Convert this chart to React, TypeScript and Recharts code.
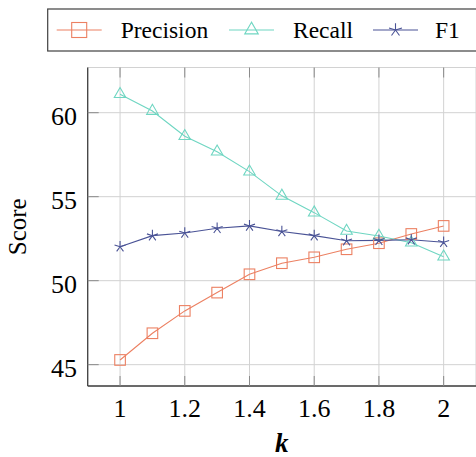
import {
  LineChart,
  Line,
  XAxis,
  YAxis,
  CartesianGrid,
  Legend,
} from "recharts";

const K = [1, 1.1, 1.2, 1.3, 1.4, 1.5, 1.6, 1.7, 1.8, 1.9, 2];
const PRECISION = [45.28, 46.87, 48.2, 49.29, 50.38, 51.04, 51.39, 51.87, 52.23, 52.78, 53.26];
const RECALL = [61.1, 60.1, 58.6, 57.68, 56.49, 55.05, 54.05, 52.96, 52.66, 52.26, 51.43];
const F1 = [52.02, 52.68, 52.84, 53.12, 53.26, 52.93, 52.68, 52.38, 52.4, 52.44, 52.29];

const X_TICKS = [1, 1.2, 1.4, 1.6, 1.8, 2];
const Y_TICKS = [45, 50, 55, 60];

const data = K.map((k, i) => ({
  k,
  precision: PRECISION[i],
  recall: RECALL[i],
  f1: F1[i],
}));

const W = 476;
const H = 457;
const TOP = 67.5;
const BOTTOM = 386;
const LEFT = 87.7;
const FONT = "'Liberation Serif', 'Times New Roman', serif";
const TICK_COLOR = "#8a8a8a";
const FRAME = "#404040";

const COLORS = {
  precision: "#ec8062",
  recall: "#6fd6c2",
  f1: "#4a5396",
};

const textStyle = (size: number, extra: any = {}) => ({
  fontFamily: FONT,
  fontSize: size,
  fill: "#000",
  ...extra,
});

type MarkerKind = "square" | "triangle" | "star";

function Marker({ kind, cx, cy, color, r }: { kind: MarkerKind; cx: number; cy: number; color: string; r: number }) {
  if (kind === "square") {
    return <rect x={cx - r} y={cy - r} width={2 * r} height={2 * r} fill="none" stroke={color} strokeWidth={1.1} />;
  }
  if (kind === "triangle") {
    const h = r * 1.15;
    const pts = `${cx},${cy - h} ${cx - h * 0.866},${cy + h * 0.5} ${cx + h * 0.866},${cy + h * 0.5}`;
    return <polygon points={pts} fill="none" stroke={color} strokeWidth={1.1} />;
  }
  const arms = [90, 162, 234, 306, 18].map((a) => {
    const rad = (a * Math.PI) / 180;
    return `M${cx},${cy}L${cx + r * Math.cos(rad)},${cy - r * Math.sin(rad)}`;
  });
  return <path d={arms.join("")} fill="none" stroke={color} strokeWidth={1.1} />;
}

const dotFor = (kind: MarkerKind, color: string) => (props: any) => {
  const { cx, cy, index } = props;
  if (cx == null || cy == null) return <g key={`d-${kind}-${index}`} />;
  return (
    <g key={`d-${kind}-${index}`}>
      <Marker kind={kind} cx={cx} cy={cy} color={color} r={kind === "square" ? 5.3 : 5.8} />
    </g>
  );
};

const SERIES: { key: "precision" | "recall" | "f1"; name: string; kind: MarkerKind }[] = [
  { key: "precision", name: "Precision", kind: "square" },
  { key: "recall", name: "Recall", kind: "triangle" },
  { key: "f1", name: "F1", kind: "star" },
];

function XTick(props: any) {
  const { x, payload } = props;
  return (
    <g>
      <line x1={x} x2={x} y1={BOTTOM} y2={BOTTOM - 10} stroke={TICK_COLOR} />
      <line x1={x} x2={x} y1={TOP} y2={TOP + 10} stroke={TICK_COLOR} />
      <text x={x} y={417} textAnchor="middle" style={textStyle(26)}>
        {String(payload.value)}
      </text>
    </g>
  );
}

function YTick(props: any) {
  const { y, payload } = props;
  return (
    <g>
      <line x1={LEFT} x2={LEFT + 11} y1={y} y2={y} stroke={TICK_COLOR} />
      <text x={77} y={y + 12.3} textAnchor="end" style={textStyle(26)}>
        {String(payload.value)}
      </text>
    </g>
  );
}

function LegendBox() {
  const items = [
    { ...SERIES[0], lineX: 56.7, textX: 120.7 },
    { ...SERIES[1], lineX: 229, textX: 293 },
    { ...SERIES[2], lineX: 373, textX: 435 },
  ];
  return (
    <svg width={W} height={52} style={{ display: "block" }}>
      <rect x={47.7} y={9} width={460} height={42} fill="#fff" stroke={FRAME} strokeWidth={1.2} />
      {items.map((it) => (
        <g key={it.key}>
          <line x1={it.lineX} x2={it.lineX + 45} y1={30} y2={30} stroke={COLORS[it.key]} strokeWidth={1.1} />
          <Marker kind={it.kind} cx={it.lineX + 22.5} cy={30} color={COLORS[it.key]} r={it.kind === "square" ? 7.5 : 6.8} />
          <text x={it.textX} y={38} style={textStyle(23.5)}>
            {it.name}
          </text>
        </g>
      ))}
    </svg>
  );
}

export default function App() {
  return (
    <div style={{ position: "fixed", left: 0, top: 0, width: W, height: H, overflow: "hidden", background: "#fff" }}>
      <LineChart width={W} height={H} data={data} margin={{ top: TOP, right: 0, bottom: 0, left: 0 }}>
        <CartesianGrid stroke="#d2d2d2" strokeWidth={1} vertical horizontal />
        <XAxis
          dataKey="k"
          type="number"
          domain={[0.9, 2.1]}
          ticks={X_TICKS}
          allowDataOverflow
          height={H - BOTTOM}
          tickLine={false}
          axisLine={{ stroke: FRAME, strokeWidth: 1.3 }}
          tick={<XTick />}
          interval={0}
          label={{
            content: (p: any) => {
              const vb = p.viewBox || {};
              return (
                <text
                  x={vb.x + vb.width / 2}
                  y={452}
                  textAnchor="middle"
                  style={textStyle(27, { fontWeight: "bold", fontStyle: "italic" })}
                >
                  k
                </text>
              );
            },
          }}
        />
        <XAxis
          xAxisId="top"
          orientation="top"
          dataKey="k"
          type="number"
          domain={[0.9, 2.1]}
          height={0}
          tick={false}
          tickLine={false}
          axisLine={{ stroke: FRAME, strokeWidth: 1.3 }}
        />
        <YAxis
          type="number"
          domain={[43.73, 62.69]}
          ticks={Y_TICKS}
          allowDataOverflow
          width={LEFT}
          tickLine={false}
          axisLine={{ stroke: FRAME, strokeWidth: 1.3 }}
          tick={<YTick />}
          interval={0}
          label={{
            content: (p: any) => {
              const vb = p.viewBox || {};
              const cy = vb.y + vb.height / 2;
              return (
                <text
                  transform={`translate(26, ${cy}) rotate(-90)`}
                  textAnchor="middle"
                  style={textStyle(25)}
                >
                  Score
                </text>
              );
            },
          }}
        />
        <Legend
          verticalAlign="middle"
          align="center"
          layout="horizontal"
          wrapperStyle={{ top: 0, left: 0, width: W, height: 52 }}
          content={() => <LegendBox />}
        />
        {SERIES.map((s) => (
          <Line
            key={s.key}
            dataKey={s.key}
            name={s.name}
            stroke={COLORS[s.key]}
            strokeWidth={1.1}
            dot={dotFor(s.kind, COLORS[s.key])}
            activeDot={false}
            isAnimationActive={false}
            type="linear"
          />
        ))}
      </LineChart>
    </div>
  );
}
